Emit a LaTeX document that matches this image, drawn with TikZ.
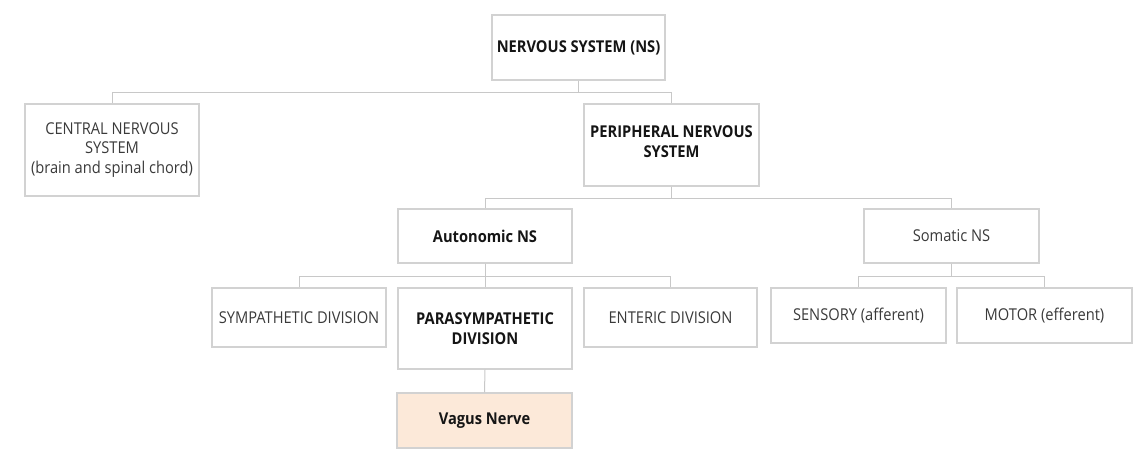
\documentclass[tikz,border=0pt]{standalone}
\usepackage{fontspec}
\setmainfont{Open Sans}[FakeStretch=0.9]
\definecolor{boxgray}{HTML}{D2D2D2}
\definecolor{linegray}{HTML}{C8C8C8}
\definecolor{txtgray}{HTML}{3A3A3A}
\definecolor{txtdark}{HTML}{151515}
\definecolor{peach}{HTML}{FCE9D9}
\begin{document}
\begin{tikzpicture}[x=1pt,y=-1pt,
  box/.style={draw=boxgray, line width=1.1pt, fill=white, align=center, inner sep=0pt,
    text=txtgray, font=\fontsize{16.3}{19.8}\selectfont},
  boldbox/.style={box, text=txtdark, font=\fontsize{16.3}{20.3}\selectfont\bfseries},
  boldtext/.style={align=center, inner sep=0pt, text=txtdark, font=\fontsize{16.3}{20.3}\selectfont\bfseries},
  conn/.style={draw=linegray, line width=1pt}]
\useasboundingbox (0,0) rectangle (1137,459);
\node[boldbox, minimum width=173pt, minimum height=65pt] (ns) at (578.5,47.5) {NERVOUS SYSTEM (NS)};
\node[box, minimum width=174pt, minimum height=92pt] (cns) at (112,150) {CENTRAL NERVOUS\\SYSTEM\\(brain and spinal chord)};
\node[boldbox, minimum width=175pt, minimum height=82pt] (pns) at (671.5,145) {};
\node[boldtext] (pnst) at (671.5,141.5) {PERIPHERAL NERVOUS\\SYSTEM};
\node[boldbox, minimum width=174pt, minimum height=54pt] (ans) at (485,236) {Autonomic NS};
\node[box, minimum width=175pt, minimum height=54pt] (sns) at (951.5,236) {Somatic NS};
\node[box, minimum width=174pt, minimum height=59pt] (sym) at (299,317.5) {SYMPATHETIC DIVISION};
\node[boldbox, minimum width=174pt, minimum height=81pt] (para) at (485,328.5) {PARASYMPATHETIC\\DIVISION};
\node[box, minimum width=173pt, minimum height=59pt] (ent) at (670.5,317.5) {ENTERIC DIVISION};
\node[box, minimum width=175pt, minimum height=55pt] (sens) at (858.5,315.5) {SENSORY (afferent)};
\node[box, minimum width=175pt, minimum height=55pt] (mot) at (1044.5,315.5) {MOTOR (efferent)};
\node[boldbox, fill=peach, minimum width=175pt, minimum height=55pt] (vag) at (484.5,420.5) {Vagus Nerve};
\draw[conn] (ns.south) -- ++(0,12) -| (cns.north);
\draw[conn] (ns.south) -- ++(0,12) -| (pns.north);
\draw[conn] (pns.south) -- ++(0,12) -| (ans.north);
\draw[conn] (pns.south) -- ++(0,12) -| (sns.north);
\draw[conn] (ans.south) -- ++(0,13) -| (sym.north);
\draw[conn] (ans.south) -- (para.north);
\draw[conn] (ans.south) -- ++(0,13) -| (ent.north);
\draw[conn] (sns.south) -- ++(0,13) -| (sens.north);
\draw[conn] (sns.south) -- ++(0,13) -| (mot.north);
\draw[conn] (para.south) -- (vag.north);
\end{tikzpicture}
\end{document}
